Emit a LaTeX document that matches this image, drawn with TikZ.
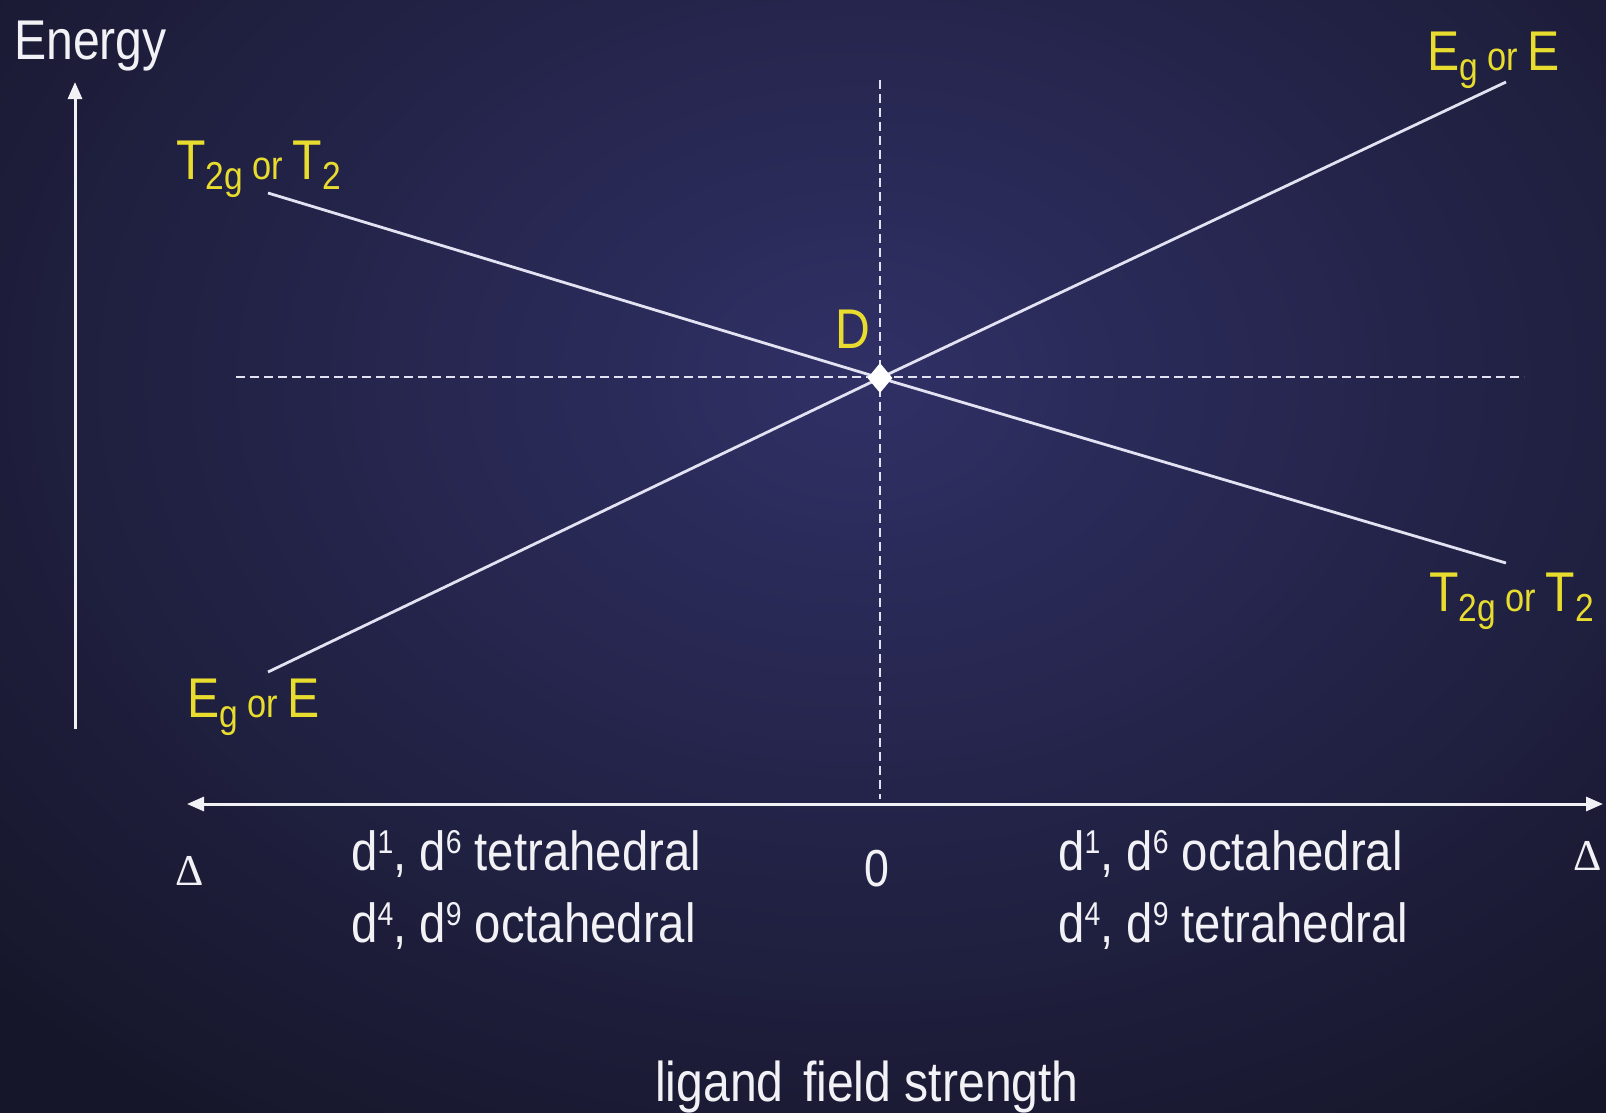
\documentclass[tikz,border=0pt]{standalone}
\usepackage{fontspec}
\setmainfont[FakeStretch=0.86]{Liberation Sans}
\newfontfamily\deltafont{Liberation Serif}
\usetikzlibrary{arrows.meta,shapes.geometric}
\definecolor{bgin}{RGB}{48,48,102}
\definecolor{bgout}{RGB}{22,22,42}
\definecolor{lbl}{RGB}{232,220,46}
\definecolor{ln}{RGB}{226,226,242}
\definecolor{tx}{RGB}{242,242,246}
\newcommand{\sbs}[1]{\raisebox{-10pt}{\fontsize{39}{40}\selectfont #1}}
\newcommand{\orw}{{\fontsize{40}{40}\selectfont\ or\ }}
\newcommand{\sps}[1]{\raisebox{17pt}{\fontsize{33}{34}\selectfont #1}}
\tikzset{
  txt/.style={inner sep=0pt, anchor=base west, text=tx, font=\fontsize{55}{60}\selectfont},
  ylab/.style={inner sep=0pt, anchor=base west, text=lbl, font=\fontsize{56}{60}\selectfont},
  lvl/.style={draw=ln, line width=2.8pt},
  dsh/.style={draw=ln, line width=1.8pt, dash pattern=on 9pt off 5pt},
  axis/.style={draw=tx, line width=3pt, -{Triangle[length=17pt,width=14pt]}},
  axis2/.style={draw=tx, line width=3pt, {Triangle[length=17pt,width=14pt]}-{Triangle[length=17pt,width=14pt]}},
  dlt/.style={inner sep=0pt, anchor=center, text=tx, font=\deltafont\fontsize{44}{50}\selectfont},
}
\begin{document}
\begin{tikzpicture}[x=1pt,y=-1pt]
\useasboundingbox (0,0) rectangle (1606,1112);
\begin{scope}
\clip (0,0) rectangle (1606,1112);
\shade[inner color=bgin, outer color=bgout] (-340,-520) rectangle (2060,1280);
\end{scope}

% coordinates
\coordinate (D0) at (880,378);
\coordinate (t2l) at (268,193);
\coordinate (t2r) at (1506,563);
\coordinate (egl) at (268,672);
\coordinate (egr) at (1506,82);
\coordinate (hl) at (236,377);
\coordinate (hr) at (1524,377);
\coordinate (vt) at (880,80);
\coordinate (vb) at (880,799);
\coordinate (ebot) at (75,729);
\coordinate (etop) at (75,82);
\coordinate (xl) at (187,804);
\coordinate (xr) at (1603,804);

% dashed guides
\draw[dsh] (hl) -- (hr);
\draw[dsh] (vt) -- (vb);

% level lines
\draw[lvl] (t2l) -- (D0) -- (t2r);
\draw[lvl] (egl) -- (D0) -- (egr);
\node[diamond, fill=white, minimum width=25pt, minimum height=30pt, inner sep=0pt] (Dpt) at (D0) {};

% axes
\draw[axis] (ebot) -- (etop);
\draw[axis2] (xl) -- (xr);

% labels
\node[txt, font=\fontsize{56}{60}\selectfont] (energy) at (14,59) {Energy};
\node[ylab] (lT2l) at (176,179) {T\sbs{2g}\orw T\sbs{2}};
\node[ylab] (lEgl) at (187,717) {E\sbs{g}\orw E};
\node[ylab] (lEgr) at (1427,70) {E\sbs{g}\orw E};
\node[ylab] (lT2r) at (1429,611) {T\sbs{2g}\orw T\sbs{2}};
\node[ylab] (lD) at (835,348) {D};

\node[dlt] (dl) at (190,871) {Δ};
\node[dlt] (dr) at (1588,856) {Δ};
\node[txt, anchor=base, font=\fontsize{52}{56}\selectfont] (zero) at (877,886) {0};

\node[txt] (l1) at (351,870) {d\sps{1}, d\sps{6} tetrahedral};
\node[txt] (l2) at (351,942) {d\sps{4}, d\sps{9} octahedral};
\node[txt] (r1) at (1058,870) {d\sps{1}, d\sps{6} octahedral};
\node[txt] (r2) at (1058,942) {d\sps{4}, d\sps{9} tetrahedral};

\node[txt, font=\fontsize{56}{60}\selectfont] (lfs) at (655,1101) {ligand\hspace{6pt} field strength};
\end{tikzpicture}
\end{document}
